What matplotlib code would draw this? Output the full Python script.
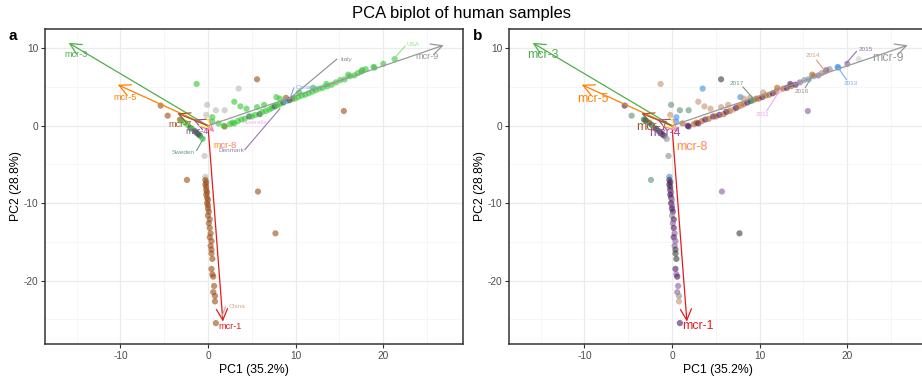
"""
PCA biplot of human samples
panel a: samples coloured by country, panel b: by collection year
"""

import matplotlib.pyplot as plt
from matplotlib.ticker import MultipleLocator

plt.rcParams["font.family"] = ["Liberation Sans", "DejaVu Sans"]
plt.rcParams["axes.unicode_minus"] = False

# ----- sample scores (PC1, PC2), country and year per sample -----
PC1 = [-0.3, -0.3, -0.2, -0.3, -0.2, -0.2, -0.1, -0.2, -0.1, 0.0, -0.1, 0.0, 0.0, 0.1, 0.0,
       0.2, 0.1, 0.2, 0.3, 0.2, 0.4, 0.3, 0.4, 0.4, 0.5, 0.4, 0.5, 0.6, 0.7, 0.6, 0.8, 0.8, 0.9,
       -5.4, -4.6, -3.2, -3.0, -2.6, -2.3, -2.0, -1.8, -1.5, -1.3, -1.1, -0.9, -0.6,
       -1.3, 3.5, 5.6, -0.1, 0.9, 1.9, -0.2, 3.0, 3.7, 0.5,
       15.5, 5.7, 7.7, -2.4, -0.4,
       0.5, 1.2, 1.9, 1.8, 2.5, 2.8, 3.0, 3.4, 3.8, 4.2, 4.7, 5.0, 5.4, 5.9, 6.2, 6.6, 7.0, 7.3,
       7.6, 7.9, 8.2, 8.6, 8.9, 9.0, 9.3, 9.6, 9.9, 10.3, 10.7, 11.1, 11.5, 11.9, 12.3, 12.7,
       13.1, 13.6, 14.1, 14.6, 15.1, 15.6, 16.2, 16.7, 17.1, 17.5, 18.0, 18.9, 19.0, 20.0, 21.3,
       7.8, 6.4, 5.6, 8.2, 4.4, 10.4, 12.0, 13.5, 16.0, 17.6]
PC2 = [-6.6, -7.0, -7.3, -7.6, -7.9, -8.3, -8.6, -8.9, -9.3, -9.6, -10.0, -10.3, -10.7, -11.1, -11.6,
       -12.1, -12.6, -13.2, -13.9, -14.4, -14.9, -15.5, -16.0, -16.5, -17.2, -18.5, -19.2, -19.5,
       -20.7, -21.5, -22.0, -22.7, -25.5,
       2.6, 1.3, 0.8, 0.7, 0.4, 0.1, -0.3, -0.4, -0.7, -0.9, -1.1, -1.3, -1.7,
       5.4, 4.8, 6.0, 2.7, 2.0, 2.0, 1.4, 3.1, 2.5, 1.1,
       1.9, -8.5, -13.9, -7.0, -3.9,
       0.5, 0.3, -0.1, 0.0, 0.2, 0.4, 0.3, 0.6, 0.8, 0.9, 1.2, 1.2, 1.4, 1.5, 1.8, 1.9, 2.1, 2.3,
       2.5, 2.6, 2.8, 3.0, 3.6, 3.2, 3.3, 3.5, 3.5, 3.7, 3.9, 4.0, 4.2, 4.4, 4.6, 4.8,
       4.9, 5.1, 5.3, 5.6, 5.9, 6.0, 6.4, 6.5, 6.8, 7.0, 7.3, 7.6, 7.5, 8.0, 8.6,
       3.7, 2.7, 2.4, 3.5, 2.2, 4.3, 4.9, 5.4, 6.6, 7.2]
COUNTRY = (["Italy"] + ["China"] * 32
           + ["China", "China", "China", "USA", "USA", "USA", "Sweden", "USA", "Sweden", "Sweden",
              "Sweden", "Sweden", "USA"]
           + ["USA", "Italy", "China", "Italy", "Italy", "Italy", "Italy", "USA", "USA", "USA"]
           + ["China", "China", "China", "China", "Italy"]
           + ["USA", "USA", "China", "USA", "USA", "USA", "USA", "USA", "USA", "USA", "Sweden",
              "USA", "USA", "Sweden", "USA", "USA", "USA", "USA", "Sweden", "USA", "USA", "Sweden",
              "China", "Canada", "Sweden", "China", "USA", "USA", "USA", "USA", "USA", "USA", "USA",
              "USA", "USA", "USA", "USA", "USA", "USA", "USA", "USA", "USA", "USA", "USA", "USA",
              "USA", "USA", "USA", "USA"]
           + ["USA"] * 10)
YEAR = (["2013", "2010", "2009", "2009", "2010", "2009", "2015", "2009", "2009", "2016", "2009",
         "2015", "2009", "2009", "2016", "2009", "2015", "2009", "2015", "2009", "2015", "2015",
         "2010", "2010", "2010", "2009", "2015", "2009", "2015", "2015", "2016", "2014", "2009"]
        + ["2009", "2017", "2018", "2018", "2018", "2018", "2017", "2009", "2018", "2009", "2009",
           "2010", "2016"]
        + ["2014", "2013", "2010", "2017", "2017", "2017", "2014", "2014", "2014", "2013"]
        + ["2015", "2015", "2010", "2017", "2016"]
        + ["2013", "2012", "2009", "2009", "2012", "2012", "2009", "2012", "2009", "2012", "2009",
           "2012", "2009", "2012", "2009", "2012", "2014", "2009", "2012", "2014", "2012", "2009",
           "2014", "2018", "2017", "2012", "2012", "2009", "2012", "2012", "2009", "2012", "2011",
           "2012", "2009", "2012", "2009", "2015", "2016", "2013", "2016", "2015", "2016", "2014",
           "2016", "2013", "2013", "2015", "2008"]
        + ["2013", "2014", "2014", "2014", "2014", "2014", "2012", "2009", "2012", "2015"])

COUNTRY_COLORS = {"USA": "#33c633", "China": "#9a4a12", "Italy": "#b8b8b8", "Canada": "#5b9be0",
                  "Australia": "#f0a0f0", "Sweden": "#1b5b38", "Denmark": "#6a4a7a"}
YEAR_COLORS = {"2008": "#cfcfcf", "2009": "#4a1860", "2010": "#3a3a3a", "2011": "#f2a6f2",
               "2012": "#b35c14", "2013": "#3d8ee0", "2014": "#c8906c", "2015": "#8a5c9c",
               "2016": "#8c8c8c", "2017": "#5f9275", "2018": "#1a5c35"}

# ----- loadings (arrows) -----
GENES = ["mcr-1", "mcr-3", "mcr-4", "mcr-5", "mcr-6", "mcr-7", "mcr-8", "mcr-9"]
LOAD_X = [1.7, -15.9, -1.7, -10.3, 0.5, -3.5, 0.7, 26.9]
LOAD_Y = [-25.3, 10.7, 0.8, 5.3, -0.5, 1.6, -0.8, 10.4]
GENE_COLORS = ["#E41A1C", "#4DAF4A", "#984EA3", "#FF7F00", "#FFFF33", "#A65628", "#F781BF", "#999999"]
# label positions differ a bit between panels (repelled labels)
GENE_LAB_A = [(2.5, -26.0), (-15.1, 9.2), (-1.3, -0.8), (-9.5, 3.7), (1.8, -2.5), (-3.2, 0.1),
              (1.9, -2.6), (25.0, 8.9)]
GENE_LAB_B = [(3.0, -25.9), (-14.7, 9.1), (-0.8, -0.95), (-9.0, 3.5), (2.2, -2.7), (-2.3, -0.1),
              (2.3, -2.8), (24.6, 8.7)]

# ----- group labels: text, text position, segment start, segment end -----
COUNTRY_LABELS = ["Italy", "USA", "Canada", "Australia", "Sweden", "Denmark", "China"]
COUNTRY_LAB_XY = [(15.05, 8.6), (22.7, 10.5), (10.0, 5.0), (4.0, 0.4), (-2.85, -3.4), (1.15, -3.2), (2.3, -23.3)]
COUNTRY_SEG = [((9.2, 3.4), (14.7, 8.6)), ((21.1, 8.5), (22.5, 10.3)), ((9.35, 3.5), (9.8, 4.9)),
               None, ((-1.3, -3.2), (-0.45, -1.5)), ((4.2, -3.1), (8.2, 2.2)), ((2.0, -23.4), (1.56, -24.7))]
COUNTRY_LAB_COLORS = ["#8c8c8c", "#8ee68e", "#7aaaf0", "#f5b0f5", "#6a9a80", "#9a7aaa", "#d9a58a"]
COUNTRY_LAB_HA = ["left", "left", "left", "left", "center", "left", "left"]

YEAR_LABELS = ["2017", "2011", "2016", "2014", "2013", "2015"]
YEAR_LAB_XY = [(7.4, 5.4), (10.4, 1.4), (14.8, 4.4), (16.1, 9.05), (20.4, 5.4), (22.1, 9.8)]
YEAR_SEG = [((8.1, 5.0), (9.2, 3.6)), ((10.8, 1.9), (12.1, 4.2)), ((15.2, 4.9), (15.9, 6.25)),
            ((16.5, 8.45), (17.4, 7.15)), ((19.9, 5.95), (19.0, 7.45)), ((21.05, 9.6), (19.9, 8.1))]
YEAR_LAB_COLORS = ["#6a9a80", "#f0a8f0", "#909090", "#d4a080", "#7ab0f0", "#9a70b0"]


def draw_panel(ax, colors, gene_lab, gene_fs, labels, lab_xy, segs, lab_colors, lab_ha):
    ax.set_xlim(-18.6, 29.1)
    ax.set_ylim(-28.2, 12.5)
    ax.xaxis.set_major_locator(MultipleLocator(10))
    ax.xaxis.set_minor_locator(MultipleLocator(5))
    ax.yaxis.set_major_locator(MultipleLocator(10))
    ax.yaxis.set_minor_locator(MultipleLocator(5))
    ax.grid(which="major", color="#ebebeb", lw=0.9)
    ax.grid(which="minor", color="#f3f3f3", lw=0.5)
    ax.set_axisbelow(True)
    for sp in ax.spines.values():
        sp.set_color("#333333")
        sp.set_linewidth(1.1)
    ax.tick_params(which="major", length=3, color="#333333", labelsize=7.3, labelcolor="#4d4d4d", pad=2)
    ax.tick_params(which="minor", length=0)

    ax.scatter(PC1, PC2, s=20, c=colors, alpha=0.6, linewidths=0, zorder=2)

    for gx, gy, gc in zip(LOAD_X, LOAD_Y, GENE_COLORS):
        ax.annotate("", xy=(gx, gy), xytext=(0, 0), zorder=3,
                    arrowprops=dict(arrowstyle="->,head_length=0.8,head_width=0.4", color=gc,
                                    lw=0.9, shrinkA=0, shrinkB=0))
    for g, (lx, ly), gc in zip(GENES, gene_lab, GENE_COLORS):
        ax.text(lx, ly, g, color=gc, fontsize=gene_fs, ha="center", va="center", zorder=4)

    for txt, (lx, ly), seg, lc, ha in zip(labels, lab_xy, segs, lab_colors, lab_ha):
        if seg is not None:
            ax.plot([seg[0][0], seg[1][0]], [seg[0][1], seg[1][1]], color=lc, lw=0.8, zorder=4)
        ax.text(lx, ly, txt, color=lc, fontsize=4.6, ha=ha, va="center", zorder=5)

    ax.set_xlabel("PC1 (35.2%)", fontsize=8.8, labelpad=2)
    ax.set_ylabel("PC2 (28.8%)", fontsize=8.8, labelpad=1)


fig = plt.figure(figsize=(9.22, 3.76), dpi=100)
ax_a = fig.add_axes([45 / 922, 32 / 376, 418 / 922, 315 / 376])
ax_b = fig.add_axes([509 / 922, 32 / 376, 418 / 922, 315 / 376])

draw_panel(ax_a, [COUNTRY_COLORS[c] for c in COUNTRY], GENE_LAB_A, 6.6,
           COUNTRY_LABELS, COUNTRY_LAB_XY, COUNTRY_SEG, COUNTRY_LAB_COLORS, COUNTRY_LAB_HA)
draw_panel(ax_b, [YEAR_COLORS[y] for y in YEAR], GENE_LAB_B, 8.8,
           YEAR_LABELS, YEAR_LAB_XY, YEAR_SEG, YEAR_LAB_COLORS, ["center"] * 6)

fig.text(0.5, 0.965, "PCA biplot of human samples", ha="center", va="center", fontsize=12)
fig.text(13 / 922, 1 - 36 / 376, "a", fontsize=11, fontweight="bold", ha="center", va="center")
fig.text(478 / 922, 1 - 36 / 376, "b", fontsize=11, fontweight="bold", ha="center", va="center")

fig.savefig("out.png", dpi=100)
